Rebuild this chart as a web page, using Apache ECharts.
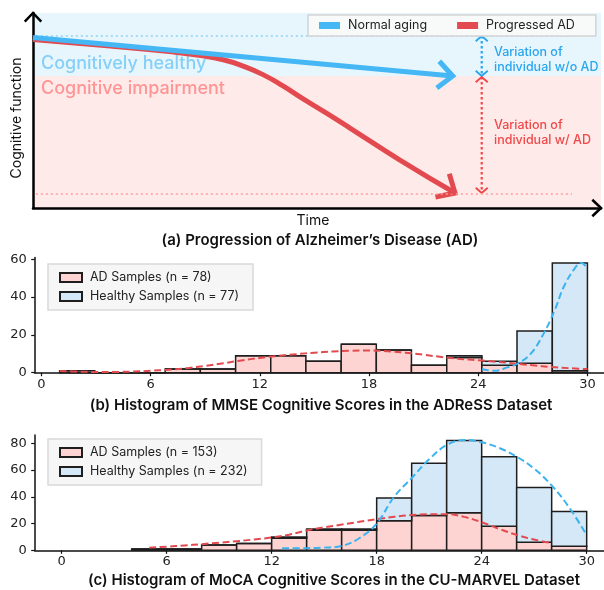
<!DOCTYPE html>
<html>
<head>
<meta charset="utf-8">
<script src="https://cdn.jsdelivr.net/npm/echarts@6/dist/echarts.min.js"></script>
<style>
  html, body { margin: 0; padding: 0; background: #fff; }
  #chart { width: 604px; height: 590px; }
</style>
</head>
<body>
<div id="chart"></div>
<script>
// ---- (a) schematic: time 0-100, cognitive function 0-100 ----
var normalAging = [[0, 87.4], [73.9, 67.7]];
var progressedAD = [
  [0, 86.4], [13.6, 83.1], [24.0, 80.2], [29.5, 78.2], [33.5, 76.0],
  [37.0, 72.8], [40.5, 68.4], [44.0, 62.6], [47.0, 57.0], [50.0, 51.6],
  [53.0, 46.2], [55.8, 41.0], [64.6, 24.6], [74.3, 7.7]
];
var healthyBand = [67.7, 100];
var impairedBand = [0, 67.7];
var refSpan = [0.5, 94.9];
var healthyRef = 88.2;
var adRef = 7.2;
var variationX = 79;
var variationNoAD = [88.2, 67.7];
var variationAD = [67.2, 7.7];

// ---- (b) MMSE, ADReSS ----
var mmseEdges = [1, 2.93, 4.87, 6.8, 8.73, 10.67, 12.6, 14.53, 16.47, 18.4, 20.33, 22.27, 24.2, 26.13, 28.07, 30];
var mmseAD = [1, 0, 0, 2, 2, 9, 9, 6, 15, 12, 4, 8, 4, 5, 1];
var mmseHC = [0, 0, 0, 0, 0, 0, 0, 0, 0, 0, 0, 1, 2, 17, 57];
var mmseKdeAD = [
  [1, 0.9], [2, 0.6], [3, 0.4], [4, 0.4], [5, 0.6], [6, 1.0], [7, 1.6], [8, 2.4],
  [9, 3.6], [10, 5.0], [11, 6.5], [12, 7.8], [13, 8.9], [14, 9.8], [15, 10.6],
  [16, 11.2], [17, 11.6], [18, 11.7], [19, 11.4], [20, 10.6], [21, 9.5], [22, 8.3],
  [23, 7.3], [24, 6.6], [25, 5.8], [26, 4.9], [27, 3.9], [28, 3.0], [29, 2.4], [30, 1.9]
];
var mmseKdeHC = [
  [24.2, 1.8], [24.9, 1.0], [25.6, 2.8], [26.2, 5.0], [26.9, 10.2], [27.6, 20.8],
  [28.2, 33], [28.7, 45.5], [29.3, 55.2], [29.65, 58.2], [30, 55.2]
];
var mmseXTicks = [0, 6, 12, 18, 24, 30];
var mmseYTicks = [0, 20, 40, 60];

// ---- (c) MoCA, CU-MARVEL ----
var mocaEdges = [4, 6, 8, 10, 12, 14, 16, 18, 20, 22, 24, 26, 28, 30];
var mocaAD = [1, 1, 4, 5, 9, 15, 15, 22, 26, 28, 18, 6, 3];
var mocaHC = [0, 0, 0, 0, 1, 1, 1, 17, 39, 54, 52, 41, 26];
var mocaKdeAD = [
  [5, 2.0], [6, 2.7], [7, 3.6], [8, 4.6], [9, 5.7], [10, 6.8], [11, 8.1], [12, 9.6],
  [13, 11.7], [14, 14.8], [15, 17.2], [16, 19.2], [17, 21.3], [18, 23.3], [19, 25],
  [20, 26.3], [21, 27], [22, 27], [23, 25], [24, 21], [25, 16], [26, 11.5], [27, 8], [28, 5.5]
];
var mocaKdeHC = [
  [12.6, 1.5], [14, 1.6], [15, 2], [16, 3.2], [17, 9], [18, 20], [19, 40], [20, 54],
  [21, 68], [22, 78.7], [23, 82.5], [24, 80.7], [25, 76.5], [26, 70], [27, 61],
  [28, 48.5], [29, 32], [30, 11.4]
];
var mocaXTicks = [0, 6, 12, 18, 24, 30];
var mocaYTicks = [0, 20, 40, 60, 80];

var PINK = '#fdd4d2', LBLUE = '#d5e8f7', EDGE = '#1e1e1e';
var RED = '#e34a4f', BLUE = '#45b7f5';
var TICKFONT = 'DejaVu Sans', FONT = 'Inter';

function stackRows(edges, base, add) {
  var rows = [];
  for (var i = 0; i < add.length; i++) {
    var b = base ? base[i] : 0;
    rows.push([edges[i], edges[i + 1], b, b + add[i]]);
  }
  return rows;
}

function rectItem(fill, stroke, lw) {
  return function (params, api) {
    var p0 = api.coord([api.value(0), api.value(3)]);
    var p1 = api.coord([api.value(1), api.value(2)]);
    return {
      type: 'rect',
      shape: { x: p0[0], y: p0[1], width: p1[0] - p0[0], height: p1[1] - p0[1] },
      style: { fill: fill, stroke: stroke, lineWidth: lw }
    };
  };
}

// open ">" arrow head at the end of segment (x0,y0)->(x1,y1)
function chevronItem(color, arm, half, lw) {
  return function (params, api) {
    var a = api.coord([api.value(0), api.value(1)]);
    var b = api.coord([api.value(2), api.value(3)]);
    var ang = Math.atan2(b[1] - a[1], b[0] - a[0]);
    var p1 = [b[0] - arm * Math.cos(ang - half), b[1] - arm * Math.sin(ang - half)];
    var p2 = [b[0] - arm * Math.cos(ang + half), b[1] - arm * Math.sin(ang + half)];
    return {
      type: 'polyline',
      shape: { points: [p1, b, p2] },
      style: { fill: null, stroke: color, lineWidth: lw, lineJoin: 'miter' }
    };
  };
}

function lastSeg(pts) {
  var n = pts.length;
  return [pts[n - 2][0], pts[n - 2][1], pts[n - 1][0], pts[n - 1][1]];
}

function histAxes(gridIndex, xmin, xmax, ymax, xTicks, yTicks) {
  return {
    x: {
      type: 'value', gridIndex: gridIndex, min: xmin, max: xmax,
      axisLine: { onZero: false, lineStyle: { color: '#111', width: 1.5 } },
      axisTick: { show: true, length: 3.5, customValues: xTicks, lineStyle: { color: '#111', width: 1.2 } },
      axisLabel: { customValues: xTicks, fontFamily: TICKFONT, fontSize: 13, color: '#222', margin: 5 },
      splitLine: { show: false }
    },
    y: {
      type: 'value', gridIndex: gridIndex, min: 0, max: ymax,
      axisLine: { show: true, onZero: false, lineStyle: { color: '#111', width: 1.5 } },
      axisTick: { show: true, length: 3.5, customValues: yTicks, lineStyle: { color: '#111', width: 1.2 } },
      axisLabel: { customValues: yTicks, fontFamily: TICKFONT, fontSize: 13, color: '#222', margin: 8 },
      splitLine: { show: false }
    }
  };
}

var axB = histAxes(1, -0.37, 30.91, 61, mmseXTicks, mmseYTicks);
var axC = histAxes(2, -1.54, 30.99, 86.1, mocaXTicks, mocaYTicks);

function histLegend(top, names) {
  return {
    data: names, orient: 'vertical', left: 48, top: top,
    icon: 'rect', itemWidth: 22, itemHeight: 9, itemGap: 6,
    padding: [7, 14, 7, 11],
    backgroundColor: '#f6f6f6', borderColor: '#d9d9d9', borderWidth: 1.5, borderRadius: 0,
    textStyle: { fontFamily: FONT, fontSize: 12.5, color: '#222', padding: [0, 0, 0, 3] },
    selectedMode: false
  };
}

function label(text, x, y, color, size, weight, extra) {
  var style = { text: text, fill: color, fontFamily: FONT, fontSize: size, fontWeight: weight, textVerticalAlign: 'middle' };
  var el = { type: 'text', x: x, y: y, z: 1, silent: true, style: style };
  if (extra) {
    if (extra.align) style.textAlign = extra.align;
    if (extra.rotation) el.rotation = extra.rotation;
  }
  return el;
}

var chart = echarts.init(document.getElementById('chart'), null, { renderer: 'canvas' });

var option = {
  animation: false,
  backgroundColor: '#fff',
  grid: [
    { left: 33, right: 3, top: 13, bottom: 382, outerBoundsMode: 'none' },
    { left: 34.7, right: 0, top: 257.4, bottom: 217.3, outerBoundsMode: 'none' },
    { left: 34.7, right: 0, top: 435.1, bottom: 39.7, outerBoundsMode: 'none' }
  ],
  xAxis: [
    {
      type: 'value', gridIndex: 0, min: 0, max: 100,
      axisLine: { onZero: false, lineStyle: { color: '#000', width: 2.5 } },
      axisTick: { show: false }, axisLabel: { show: false }, splitLine: { show: false }
    },
    axB.x, axC.x
  ],
  yAxis: [
    {
      type: 'value', gridIndex: 0, min: 0, max: 100,
      axisLine: { show: true, onZero: false, lineStyle: { color: '#000', width: 2.5 } },
      axisTick: { show: false }, axisLabel: { show: false }, splitLine: { show: false }
    },
    axB.y, axC.y
  ],
  legend: [
    {
      data: ['Normal aging', 'Progressed AD'], left: 308, top: 15,
      icon: 'rect', itemWidth: 21, itemHeight: 7, itemGap: 30,
      padding: [4, 21, 4, 11],
      backgroundColor: 'rgba(250,250,250,0.92)', borderColor: '#d4d4d4', borderWidth: 1.5,
      textStyle: { fontFamily: FONT, fontSize: 12.5, color: '#222', padding: [0, 0, 0, 3] },
      selectedMode: false
    },
    histLegend(264, ['AD Samples (n = 78)', 'Healthy Samples (n = 77)']),
    histLegend(439, ['AD Samples (n = 153)', 'Healthy Samples (n = 232)'])
  ],
  series: [
    // ----- (a) -----
    {
      type: 'custom', xAxisIndex: 0, yAxisIndex: 0, silent: true, z: 0,
      renderItem: rectItem('#e7f6fc', null, 0),
      encode: { x: [0, 1], y: [2, 3] },
      data: [[0, 100, healthyBand[0], healthyBand[1]]]
    },
    {
      type: 'custom', xAxisIndex: 0, yAxisIndex: 0, silent: true, z: 0,
      renderItem: rectItem('#ffeaea', null, 0),
      encode: { x: [0, 1], y: [2, 3] },
      data: [[0, 100, impairedBand[0], impairedBand[1]]]
    },
    {
      type: 'line', xAxisIndex: 0, yAxisIndex: 0, symbol: 'none',
      lineStyle: { color: '#8fd3f6', width: 1.5, type: [2, 3] },
      data: [[refSpan[0], healthyRef], [refSpan[1], healthyRef]]
    },
    {
      type: 'line', xAxisIndex: 0, yAxisIndex: 0, symbol: 'none',
      lineStyle: { color: '#ff9d9d', width: 1.5, type: [2, 3] },
      data: [[refSpan[0], adRef], [refSpan[1], adRef]]
    },
    {
      name: 'Progressed AD', type: 'line', xAxisIndex: 0, yAxisIndex: 0,
      symbol: 'none', smooth: 0.5, color: RED,
      lineStyle: { color: RED, width: 5 },
      data: progressedAD
    },
    {
      name: 'Normal aging', type: 'line', xAxisIndex: 0, yAxisIndex: 0,
      symbol: 'none', color: BLUE,
      lineStyle: { color: BLUE, width: 5 },
      data: normalAging
    },
    {
      type: 'custom', xAxisIndex: 0, yAxisIndex: 0, silent: true, clip: false,
      renderItem: chevronItem(RED, 20, 0.74, 5),
      data: [lastSeg(progressedAD)]
    },
    {
      type: 'custom', xAxisIndex: 0, yAxisIndex: 0, silent: true, clip: false,
      renderItem: chevronItem(BLUE, 20, 0.74, 5),
      data: [lastSeg(normalAging)]
    },
    // variation arrows
    {
      type: 'line', xAxisIndex: 0, yAxisIndex: 0, symbol: 'none',
      lineStyle: { color: '#2aa6ee', width: 2.2, type: [2.5, 2.5] },
      data: [[variationX, variationNoAD[0]], [variationX, variationNoAD[1]]]
    },
    {
      type: 'line', xAxisIndex: 0, yAxisIndex: 0, symbol: 'none',
      lineStyle: { color: '#f04848', width: 2.2, type: [2.5, 2.5] },
      data: [[variationX, variationAD[0]], [variationX, variationAD[1]]]
    },
    {
      type: 'custom', xAxisIndex: 0, yAxisIndex: 0, silent: true, clip: false,
      renderItem: chevronItem('#2aa6ee', 8, 0.85, 1.8),
      data: [
        [variationX, variationNoAD[1], variationX, variationNoAD[0]],
        [variationX, variationNoAD[0], variationX, variationNoAD[1]]
      ]
    },
    {
      type: 'custom', xAxisIndex: 0, yAxisIndex: 0, silent: true, clip: false,
      renderItem: chevronItem('#f04848', 8, 0.85, 1.8),
      data: [
        [variationX, variationAD[1], variationX, variationAD[0]],
        [variationX, variationAD[0], variationX, variationAD[1]]
      ]
    },
    // axis arrow heads
    {
      type: 'custom', xAxisIndex: 0, yAxisIndex: 0, silent: true, clip: false, z: 5,
      renderItem: chevronItem('#000', 12, 0.76, 2.5),
      data: [[0, 0, 0, 100], [0, 0, 100, 0]]
    },

    // ----- (b) -----
    {
      name: 'AD Samples (n = 78)', type: 'custom', xAxisIndex: 1, yAxisIndex: 1,
      renderItem: rectItem(PINK, EDGE, 1.5),
      itemStyle: { color: PINK, borderColor: EDGE, borderWidth: 1.5 },
      encode: { x: [0, 1], y: [2, 3] },
      data: stackRows(mmseEdges, null, mmseAD)
    },
    {
      name: 'Healthy Samples (n = 77)', type: 'custom', xAxisIndex: 1, yAxisIndex: 1,
      renderItem: rectItem(LBLUE, EDGE, 1.5),
      itemStyle: { color: LBLUE, borderColor: EDGE, borderWidth: 1.5 },
      encode: { x: [0, 1], y: [2, 3] },
      data: stackRows(mmseEdges, mmseAD, mmseHC)
    },
    {
      type: 'line', xAxisIndex: 1, yAxisIndex: 1, symbol: 'none', smooth: 0.4, z: 4,
      lineStyle: { color: RED, width: 2, type: [7, 3.5] },
      data: mmseKdeAD
    },
    {
      type: 'line', xAxisIndex: 1, yAxisIndex: 1, symbol: 'none', smooth: 0.4, z: 4,
      lineStyle: { color: '#3bb3ee', width: 2, type: [7, 3.5] },
      data: mmseKdeHC
    },

    // ----- (c) -----
    {
      name: 'AD Samples (n = 153)', type: 'custom', xAxisIndex: 2, yAxisIndex: 2,
      renderItem: rectItem(PINK, EDGE, 1.5),
      itemStyle: { color: PINK, borderColor: EDGE, borderWidth: 1.5 },
      encode: { x: [0, 1], y: [2, 3] },
      data: stackRows(mocaEdges, null, mocaAD)
    },
    {
      name: 'Healthy Samples (n = 232)', type: 'custom', xAxisIndex: 2, yAxisIndex: 2,
      renderItem: rectItem(LBLUE, EDGE, 1.5),
      itemStyle: { color: LBLUE, borderColor: EDGE, borderWidth: 1.5 },
      encode: { x: [0, 1], y: [2, 3] },
      data: stackRows(mocaEdges, mocaAD, mocaHC)
    },
    {
      type: 'line', xAxisIndex: 2, yAxisIndex: 2, symbol: 'none', smooth: 0.4, z: 4,
      lineStyle: { color: RED, width: 2, type: [7, 3.5] },
      data: mocaKdeAD
    },
    {
      type: 'line', xAxisIndex: 2, yAxisIndex: 2, symbol: 'none', smooth: 0.4, z: 4,
      lineStyle: { color: '#3bb3ee', width: 2, type: [7, 3.5] },
      data: mocaKdeHC
    }
  ],
  graphic: [
    label('Cognitively healthy', 41, 64, '#86cff7', 18, 500),
    label('Cognitive impairment', 41, 89, '#ff9494', 18, 500),
    label('Variation of', 494, 52, '#2aa6ee', 12.5, 500),
    label('individual w/o AD', 494, 67, '#2aa6ee', 12.5, 500),
    label('Variation of', 494, 125, '#f04848', 12.5, 500),
    label('individual w/ AD', 494, 140, '#f04848', 12.5, 500),
    label('Cognitive function', 17, 118, '#111', 14, 400, { align: 'center', rotation: Math.PI / 2 }),
    label('Time', 313, 221, '#111', 14, 400, { align: 'center' }),
    label('(a) Progression of Alzheimer’s Disease (AD)', 320, 240, '#111', 15, 600, { align: 'center' }),
    label('(b) Histogram of MMSE Cognitive Scores in the ADReSS Dataset', 321, 405, '#111', 15, 600, { align: 'center' }),
    label('(c) Histogram of MoCA Cognitive Scores in the CU-MARVEL Dataset', 334, 580, '#111', 15, 600, { align: 'center' })
  ]
};

chart.setOption(option);
</script>
</body>
</html>
